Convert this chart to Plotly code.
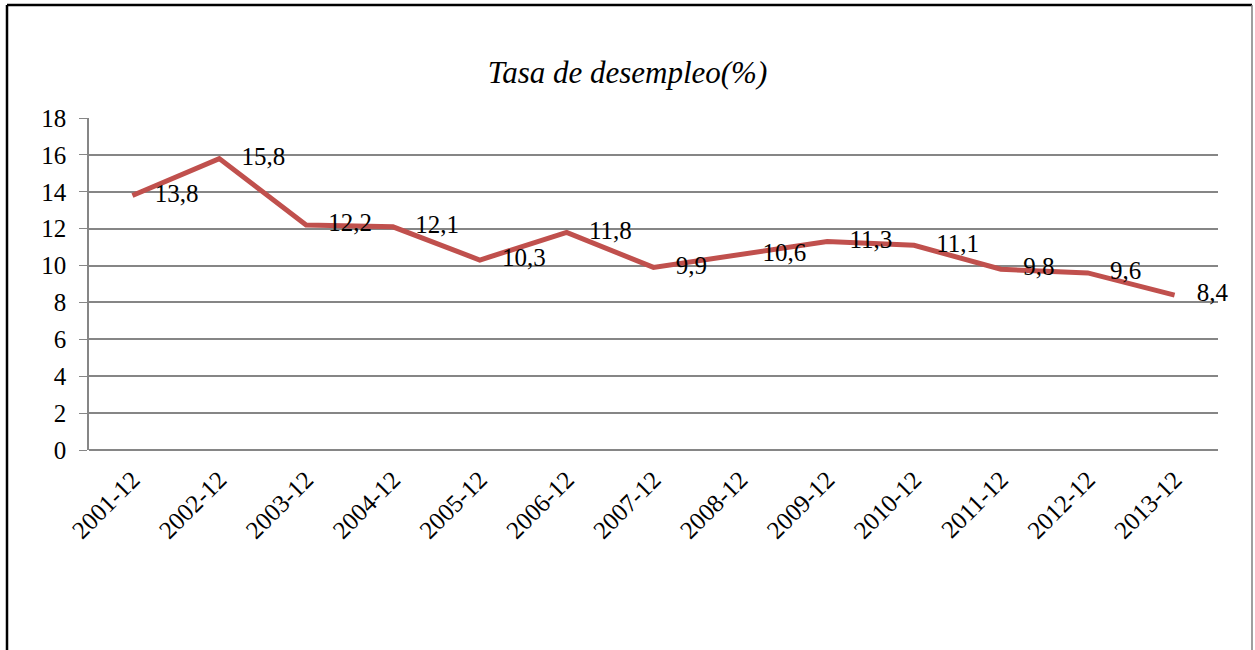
"""Tasa de desempleo line chart."""

import plotly.graph_objects as go

periodos = ["2001-12", "2002-12", "2003-12", "2004-12", "2005-12", "2006-12", "2007-12",
            "2008-12", "2009-12", "2010-12", "2011-12", "2012-12", "2013-12"]
tasa = [13.8, 15.8, 12.2, 12.1, 10.3, 11.8, 9.9, 10.6, 11.3, 11.1, 9.8, 9.6, 8.4]
y_ticks = [0, 2, 4, 6, 8, 10, 12, 14, 16, 18]

etiquetas = [f"{v:.1f}".replace(".", ",") for v in tasa]
serif = "Times New Roman, Liberation Serif, serif"

fig = go.Figure(
    go.Scatter(
        x=periodos,
        y=tasa,
        mode="lines+markers+text",
        line={"color": "#C0504D", "width": 5},
        marker={"size": 34, "color": "rgba(0,0,0,0)"},
        text=etiquetas,
        textposition="middle right",
        textfont={"family": serif, "size": 25, "color": "black"},
        cliponaxis=False,
        hoverinfo="x+y",
    )
)

fig.update_layout(
    width=1255,
    height=650,
    margin={"l": 89, "r": 37, "t": 118, "b": 200},
    paper_bgcolor="white",
    plot_bgcolor="white",
    showlegend=False,
    font={"family": serif, "size": 24, "color": "black"},
    title={
        "text": "<i>Tasa de desempleo(%)</i>",
        "x": 0.5,
        "xanchor": "center",
        "y": 1 - 72 / 650,
        "yanchor": "middle",
        "font": {"family": serif, "size": 31, "color": "black"},
    },
)
fig.update_xaxes(
    type="category",
    range=[-0.5, len(periodos) - 0.5],
    tickangle=-45,
    showgrid=False,
    showline=False,
    ticks="outside",
    ticklen=4,
    tickcolor="rgba(0,0,0,0)",
    tickfont={"family": serif, "size": 25, "color": "black"},
)
fig.update_yaxes(
    range=[0, 18],
    tickvals=y_ticks,
    showgrid=True,
    gridcolor="#868686",
    gridwidth=1.5,
    showline=True,
    linecolor="#868686",
    linewidth=1.5,
    ticks="outside",
    ticklen=8,
    tickcolor="#868686",
    ticklabelstandoff=8,
    zeroline=True,
    zerolinecolor="#868686",
    zerolinewidth=1.5,
    tickfont={"family": serif, "size": 25, "color": "black"},
)

# outer frame of the chart object
top = 1 + 113 / 332
left = -82 / 1129
right = 1 + 34 / 1129
fig.add_shape(type="line", xref="paper", yref="paper", x0=left, x1=left,
              y0=top, y1=-1, line={"color": "black", "width": 2.5})
fig.add_shape(type="line", xref="paper", yref="paper", x0=left, x1=right,
              y0=top, y1=top, line={"color": "black", "width": 2.5})
fig.add_shape(type="line", xref="paper", yref="paper", x0=right, x1=right,
              y0=top, y1=-1, line={"color": "#7f7f7f", "width": 1.5})

fig.write_html("out.html", config={"displayModeBar": False},
               post_script="document.body.style.margin='0';")
